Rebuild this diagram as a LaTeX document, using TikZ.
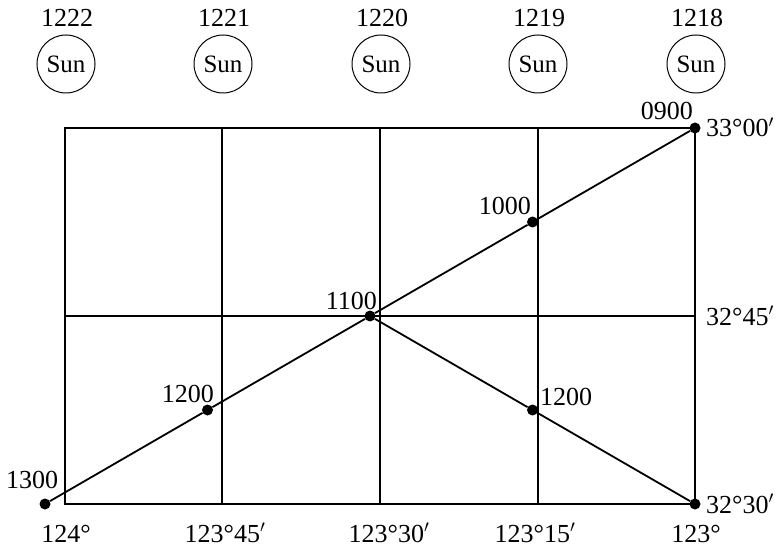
\documentclass[tikz,border=0pt]{standalone}
\usepackage{fontspec}
\setmainfont{Liberation Serif}
\newcommand{\lblfont}{\fontsize{26}{31}\selectfont}
\newcommand{\sunfont}{\fontsize{25}{30}\selectfont}
\begin{document}
\begin{tikzpicture}[x=1pt,y=-1pt,
  lbl/.style={font=\lblfont, inner sep=0pt},
  sun/.style={draw, circle, minimum size=58pt, inner sep=0pt, line width=1pt, font=\sunfont},
  dot/.style={circle, fill=black, minimum size=11pt, inner sep=0pt},
  gridline/.style={line width=1.8pt},
  track/.style={line width=1.8pt}]
\useasboundingbox (0,0) rectangle (782,548);
% sun symbols and times
\foreach \x/\t [count=\i] in {66/1222,223/1221,381/1220,538/1219,696/1218}{
  \node[lbl, anchor=base] (t\i) at (\x+1,27) {\t};
  \node[sun] (s\i) at (\x,64) {Sun};
}
% grid
\coordinate (tl) at (65,128);
\coordinate (tr) at (695,128);
\coordinate (bl) at (65,504);
\coordinate (br) at (695,504);
\coordinate (ml) at (65,316);
\coordinate (mr) at (695,316);
\foreach \x [count=\i] in {222,380,538}{
  \coordinate (vt\i) at (\x,128);
  \coordinate (vb\i) at (\x,504);
}
\draw[gridline] (tl) rectangle (br);
\draw[gridline] (ml) -- (mr);
\foreach \i in {1,2,3}{ \draw[gridline] (vt\i) -- (vb\i); }
% dots
\node[dot] (d0900) at (695,128) {};
\node[dot] (d1000) at (532.5,222) {};
\node[dot] (d1100) at (370,316) {};
\node[dot] (d1200a) at (207.5,410) {};
\node[dot] (d1300) at (45,504) {};
\node[dot] (d1200b) at (532.5,410) {};
\node[dot] (d3230) at (695,504) {};
% tracks
\draw[track] (d0900) -- (d1000) -- (d1100) -- (d1200a) -- (d1300);
\draw[track] (d1100) -- (d1200b) -- (d3230);
% dot labels
\node[lbl, anchor=base east] (l0900) at (693,120) {0900};
\node[lbl, anchor=base east] (l1000) at (531,215) {1000};
\node[lbl, anchor=base east] (l1100) at (377,309) {1100};
\node[lbl, anchor=base east] (l1200a) at (214,402) {1200};
\node[lbl, anchor=base west] (l1200b) at (540,405) {1200};
\node[lbl, anchor=base west] (l1300) at (6,488) {1300};
% latitude labels
\node[lbl, anchor=base west] (lat1) at (706,137) {33\textdegree00$'$};
\node[lbl, anchor=base west] (lat2) at (706,325) {32\textdegree45$'$};
\node[lbl, anchor=base west] (lat3) at (706,513) {32\textdegree30$'$};
% longitude labels
\node[lbl, anchor=base] (lon1) at (66,542) {124\textdegree};
\node[lbl, anchor=base] (lon2) at (225,542) {123\textdegree45$'$};
\node[lbl, anchor=base] (lon3) at (389,542) {123\textdegree30$'$};
\node[lbl, anchor=base] (lon4) at (535,542) {123\textdegree15$'$};
\node[lbl, anchor=base] (lon5) at (696,542) {123\textdegree};
\end{tikzpicture}
\end{document}
